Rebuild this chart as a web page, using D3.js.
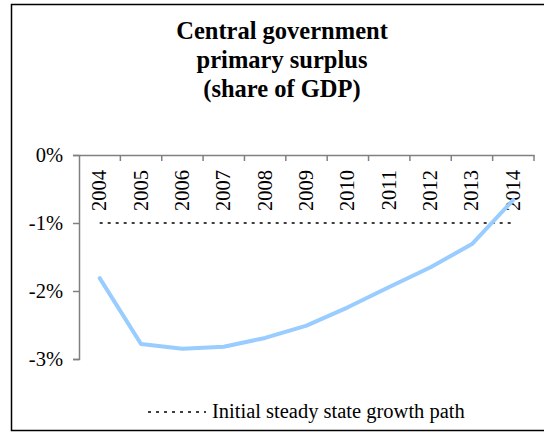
<!DOCTYPE html>
<html><head><meta charset="utf-8">
<script src="https://cdn.jsdelivr.net/npm/d3@7"></script>
<style>body{margin:0;background:#fff}svg{display:block}text{font-family:"Liberation Serif","Times New Roman",serif;fill:#000}</style>
</head><body>
<script>
const years = ["2004","2005","2006","2007","2008","2009","2010","2011","2012","2013","2014"];
const surplus = [-1.81,-2.78,-2.85,-2.82,-2.69,-2.51,-2.24,-1.94,-1.65,-1.31,-0.66];
const steadyState = [-1,-1,-1,-1,-1,-1,-1,-1,-1,-1,-1];
const yTicks = [0,-1,-2,-3];
const titleLines = ["Central government","primary surplus","(share of GDP)"];
const legendLabel = "Initial steady state growth path";

const W=544,H=432;
const svg=d3.select("body").append("svg").attr("width",W).attr("height",H);
svg.append("rect").attr("x",11.5).attr("y",4.5).attr("width",545).attr("height",426)
  .attr("fill","#fff").attr("stroke","#000").attr("stroke-width",1.5);

const x=d3.scaleBand().domain(years).range([79,534]);
const y=d3.scaleLinear().domain([-3,0]).range([359,155]);

// title
svg.append("g").selectAll("text").data(titleLines).join("text")
  .attr("x",282).attr("y",(d,i)=>39+i*29).attr("text-anchor","middle")
  .attr("font-size",24.5).attr("font-weight","bold").text(d=>d);

// y axis
const ya=svg.append("g").attr("transform","translate(79,0)")
  .call(d3.axisLeft(y).tickValues(yTicks).tickFormat(d=>d+"%").tickSize(6).tickPadding(10));
ya.select(".domain").attr("stroke","#808080").attr("stroke-width",1.5);
ya.selectAll(".tick line").attr("stroke","#808080").attr("stroke-width",1.5);
ya.selectAll(".tick text").attr("font-size",20.5).attr("fill","#000");

// x axis at 0
const xa=svg.append("g").attr("transform",`translate(0,${y(0)})`)
  .call(d3.axisBottom(x).tickSize(0).tickFormat(""));
xa.select(".domain").attr("stroke","#808080").attr("stroke-width",1.5);
const bounds=years.map(d=>x(d)).concat([x.range()[1]]);
xa.selectAll(".bt").data(bounds.slice(1)).join("line").attr("class","bt")
  .attr("x1",d=>d).attr("x2",d=>d).attr("y1",0).attr("y2",6)
  .attr("stroke","#808080").attr("stroke-width",1.5);
svg.append("g").selectAll("text").data(years).join("text")
  .attr("transform",d=>`translate(${x(d)+x.bandwidth()/2+6.5},170) rotate(-90)`)
  .attr("text-anchor","end").attr("font-size",20.5).text(d=>d);

// steady state dotted line
const line=d3.line().x((d,i)=>x(years[i])+x.bandwidth()/2).y(d=>y(d));
svg.append("path").datum(steadyState).attr("d",line).attr("fill","none")
  .attr("stroke","#000").attr("stroke-width",1.5).attr("stroke-dasharray","3,5");

// surplus line
svg.append("path").datum(surplus).attr("d",line).attr("fill","none")
  .attr("stroke","#99CCFF").attr("stroke-width",4).attr("stroke-linecap","round").attr("stroke-linejoin","round");

// legend
svg.append("line").attr("x1",148).attr("x2",206).attr("y1",412).attr("y2",412)
  .attr("stroke","#000").attr("stroke-width",1.5).attr("stroke-dasharray","3,5");
svg.append("text").attr("x",212).attr("y",418).attr("font-size",20.5).text(legendLabel);
</script>
</body></html>
